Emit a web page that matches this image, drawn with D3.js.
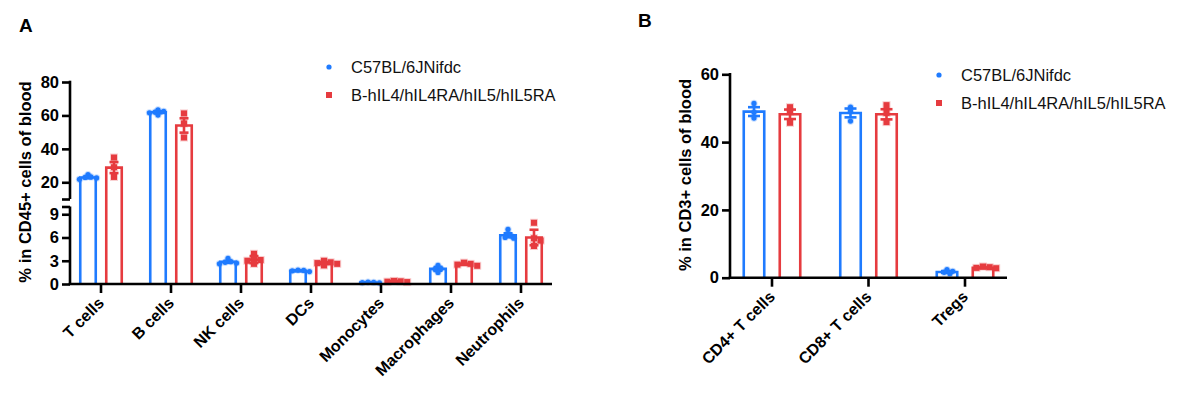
<!DOCTYPE html>
<html><head><meta charset="utf-8">
<script src="https://cdn.jsdelivr.net/npm/d3@7"></script>
<style>
html,body{margin:0;padding:0;background:#fff;}
svg{display:block;font-family:"Liberation Sans",Arial,sans-serif;}
</style></head>
<body>
<svg id="chart" width="1177" height="395"></svg>
<script>
// ---------- DATA ----------
const seriesNames = ["C57BL/6JNifdc", "B-hIL4/hIL4RA/hIL5/hIL5RA"];

const catsA = ["T cells", "B cells", "NK cells", "DCs", "Monocytes", "Macrophages", "Neutrophils"];
const meanA_wt = [22.9, 61.9, 2.85, 1.7, 0.2, 1.95, 6.3];
const semA_wt  = [0.5, 0.6, 0.12, 0.05, 0.03, 0.25, 0.25];
const meanA_hu = [28.8, 54.0, 3.15, 2.7, 0.33, 2.55, 6.0];
const semA_hu  = [3.3, 4.3, 0.45, 0.12, 0.05, 0.08, 1.0];
const ptsA_wt = [
  [24.6, 23.2, 22.9, 22.6, 21.8],
  [63.4, 62.4, 62.0, 61.6, 60.2],
  [3.3, 2.9, 2.8, 2.7, 2.6],
  [1.8, 1.75, 1.7, 1.6],
  [0.25, 0.2, 0.18, 0.15],
  [2.4, 2.0, 1.9, 1.5],
  [7.05, 6.5, 6.2, 6.0, 5.9]
];
const ptsA_hu = [
  [34.8, 29.0, 23.2],
  [61.2, 55.2, 46.8],
  [3.9, 3.3, 3.1, 3.0, 2.6],
  [3.0, 2.8, 2.7, 2.6, 2.4],
  [0.4, 0.35, 0.3, 0.25],
  [2.75, 2.6, 2.5, 2.35],
  [7.9, 5.9, 5.6, 4.9]
];
const ticksA_upper = [20, 40, 60, 80];
const ticksA_lower = [0, 3, 6, 9];

const catsB = ["CD4+ T cells", "CD8+ T cells", "Tregs"];
const meanB_wt = [49.0, 48.6, 1.7];
const semB_wt  = [1.3, 1.3, 0.25];
const meanB_hu = [48.2, 48.2, 2.9];
const semB_hu  = [1.4, 1.5, 0.12];
const ptsB_wt = [
  [51.4, 48.8, 47.1],
  [50.3, 49.2, 46.2],
  [2.4, 1.9, 1.6, 1.2]
];
const ptsB_hu = [
  [50.3, 49.0, 45.7],
  [50.9, 48.6, 45.9],
  [3.3, 3.1, 2.9, 2.8]
];
const ticksB = [0, 20, 40, 60];

// ---------- STYLE ----------
const BLUE = "#1f7bff", RED = "#e63b3f";
const SW = 2.6;
const svg = d3.select("#chart");

function drawBeeswarm(g, vals, cx, yf, r, shape, color) {
  const placed = [];
  vals.forEach(v => {
    const y = yf(v);
    let x = cx, k = 0;
    const clash = xx => placed.some(p => Math.hypot(p[0] - xx, p[1] - y) < r * 1.4);
    while (clash(x) && k < 20) { k++; x = cx + (k % 2 ? 1 : -1) * Math.ceil(k / 2) * r * 1.1; }
    placed.push([x, y]);
  });
  placed.forEach(([x, y]) => {
    if (shape === "circle") {
      g.append("circle").attr("cx", x).attr("cy", y).attr("r", r + 1).attr("fill", color).attr("opacity", 0.25);
      g.append("circle").attr("cx", x).attr("cy", y).attr("r", r).attr("fill", color);
    } else {
      g.append("rect").attr("x", x - r - 1).attr("y", y - r - 1).attr("width", 2 * r + 2).attr("height", 2 * r + 2).attr("fill", color).attr("opacity", 0.25);
      g.append("rect").attr("x", x - r).attr("y", y - r).attr("width", 2 * r).attr("height", 2 * r).attr("fill", color);
    }
  });
}

function drawGroup(g, cx, barW, y0, yv, mean, sem, pts, color, shape, capW) {
  const top = yv(mean);
  g.append("path")
    .attr("d", `M${cx - barW / 2},${y0} V${top} H${cx + barW / 2} V${y0}`)
    .attr("fill", "none").attr("stroke", color).attr("stroke-width", SW);
  const eT = yv(mean + sem), eB = yv(Math.max(0, mean - sem));
  g.append("line").attr("x1", cx).attr("x2", cx).attr("y1", eT).attr("y2", eB).attr("stroke", color).attr("stroke-width", SW);
  [eT, eB].forEach(yy => g.append("line").attr("x1", cx - capW / 2).attr("x2", cx + capW / 2).attr("y1", yy).attr("y2", yy).attr("stroke", color).attr("stroke-width", SW));
  drawBeeswarm(g, pts, cx, yv, shape === "circle" ? 2.6 : 3.0, shape, color);
}

function legend(x, y) {
  const g = svg.append("g");
  seriesNames.forEach((n, i) => {
    const yy = y + i * 28;
    if (i === 0) g.append("circle").attr("cx", x).attr("cy", yy).attr("r", 2.6).attr("fill", BLUE);
    else g.append("rect").attr("x", x - 3).attr("y", yy - 3).attr("width", 6).attr("height", 6).attr("fill", RED);
    g.append("text").attr("x", x + 22).attr("y", yy).attr("dy", "0.36em").attr("font-size", 16.5).attr("fill", "#111").text(n);
  });
}

function styleXLabels(ax) {
  ax.selectAll(".tick text")
    .attr("font-size", 16).attr("font-weight", "bold").attr("fill", "#000").attr("font-family", "Liberation Sans, Arial, sans-serif")
    .attr("text-anchor", "end").attr("dy", 0).attr("y", 0)
    .attr("transform", "translate(4,20) rotate(-45)");
}

// ---------- PANEL A ----------
const xA = d3.scaleBand().domain(catsA).range([66, 556]);
const yUp = d3.scaleLinear().domain([10, 80]).range([199, 82]);
const yLo = d3.scaleLinear().domain([0, 10]).range([284, 206.5]);
const yA = v => v > 10 ? yUp(v) : yLo(v);

const gA = svg.append("g");
catsA.forEach((c, i) => {
  const cx = xA(c) + xA.bandwidth() / 2;
  drawGroup(gA, cx - 13, 15.5, 284, yA, meanA_wt[i], semA_wt[i], ptsA_wt[i], BLUE, "circle", 9);
  drawGroup(gA, cx + 13, 15.5, 284, yA, meanA_hu[i], semA_hu[i], ptsA_hu[i], RED, "square", 9);
});

const axUp = gA.append("g").attr("transform", "translate(70,0)")
  .call(d3.axisLeft(yUp).tickValues([10].concat(ticksA_upper)).tickSize(8).tickPadding(3).tickFormat(d => d === 10 ? "" : d));
const axLo = gA.append("g").attr("transform", "translate(70,0)")
  .call(d3.axisLeft(yLo).tickValues(ticksA_lower.concat([10])).tickSize(8).tickPadding(3).tickFormat(d => d === 10 ? "" : d));
[axUp, axLo].forEach(a => {
  a.select(".domain").remove();
  a.selectAll(".tick line").attr("stroke", "#000").attr("stroke-width", SW);
  a.selectAll(".tick text").attr("font-size", 16.5).attr("font-weight", "bold").attr("fill", "#000").attr("font-family", "Liberation Sans, Arial, sans-serif");
});
gA.append("line").attr("x1", 70).attr("x2", 70).attr("y1", yUp(80) - 1.3).attr("y2", yUp(10)).attr("stroke", "#000").attr("stroke-width", SW);
gA.append("line").attr("x1", 70).attr("x2", 70).attr("y1", yLo(10)).attr("y2", 284).attr("stroke", "#000").attr("stroke-width", SW);

const axXA = gA.append("g").attr("transform", "translate(0,284)")
  .call(d3.axisBottom(xA).tickSize(9).tickPadding(0));
axXA.select(".domain").remove();
gA.append("line").attr("x1", 68.7).attr("x2", 552).attr("y1", 284).attr("y2", 284).attr("stroke", "#000").attr("stroke-width", SW);
axXA.selectAll(".tick line").attr("stroke", "#000").attr("stroke-width", SW);
styleXLabels(axXA);

svg.append("text").attr("transform", "translate(31,182) rotate(-90)").attr("text-anchor", "middle")
  .attr("font-size", 16.5).attr("font-weight", "bold").attr("fill", "#000").text("% in CD45+ cells of blood");
svg.append("text").attr("x", 19).attr("y", 32).attr("font-size", 19).attr("font-weight", "bold").text("A");
legend(329, 67);

// ---------- PANEL B ----------
const xB = d3.scaleBand().domain(catsB).range([723.75, 1013.25]);
const yB = d3.scaleLinear().domain([0, 60]).range([277.7, 74.3]);
const gB = svg.append("g");
catsB.forEach((c, i) => {
  const cx = xB(c) + xB.bandwidth() / 2;
  drawGroup(gB, cx - 18, 20.5, 277.7, yB, meanB_wt[i], semB_wt[i], ptsB_wt[i], BLUE, "circle", 12);
  drawGroup(gB, cx + 18, 20.5, 277.7, yB, meanB_hu[i], semB_hu[i], ptsB_hu[i], RED, "square", 12);
});
const axYB = gB.append("g").attr("transform", "translate(730,0)")
  .call(d3.axisLeft(yB).tickValues(ticksB).tickSize(8).tickPadding(3));
axYB.select(".domain").remove();
axYB.selectAll(".tick line").attr("stroke", "#000").attr("stroke-width", SW);
axYB.selectAll(".tick text").attr("font-size", 16.5).attr("font-weight", "bold").attr("fill", "#000").attr("font-family", "Liberation Sans, Arial, sans-serif");
gB.append("line").attr("x1", 730).attr("x2", 730).attr("y1", yB(60) - 1.3).attr("y2", 277.7).attr("stroke", "#000").attr("stroke-width", SW);
const axXB = gB.append("g").attr("transform", "translate(0,277.7)")
  .call(d3.axisBottom(xB).tickSize(9).tickPadding(0));
axXB.select(".domain").remove();
gB.append("line").attr("x1", 728.7).attr("x2", 1007).attr("y1", 277.7).attr("y2", 277.7).attr("stroke", "#000").attr("stroke-width", SW);
axXB.selectAll(".tick line").attr("stroke", "#000").attr("stroke-width", SW);
styleXLabels(axXB);

svg.append("text").attr("transform", "translate(691,175) rotate(-90)").attr("text-anchor", "middle")
  .attr("font-size", 16.5).attr("font-weight", "bold").attr("fill", "#000").text("% in CD3+ cells of blood");
svg.append("text").attr("x", 638).attr("y", 26.5).attr("font-size", 19).attr("font-weight", "bold").text("B");
legend(939, 75);
</script>
</body></html>
